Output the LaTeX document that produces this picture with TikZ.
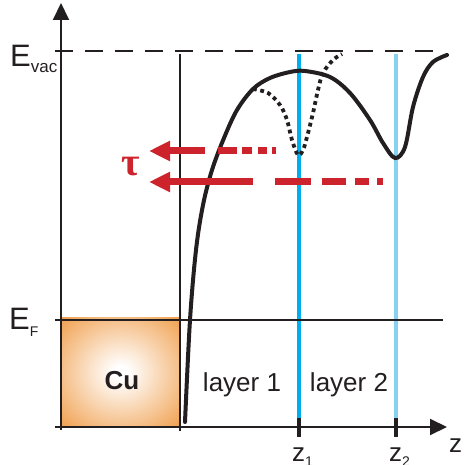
\documentclass[tikz,border=0pt]{standalone}
\usepackage{fontspec}
\setmainfont{Liberation Sans}
\newfontfamily\taufont{Liberation Serif}
\usetikzlibrary{arrows.meta}
\definecolor{ink}{RGB}{35,31,32}
\definecolor{zone}{RGB}{0,174,239}
\definecolor{ztwo}{RGB}{135,210,240}
\definecolor{tred}{RGB}{205,35,45}
\definecolor{cuor}{RGB}{240,158,75}
\pgfdeclareradialshading{cushade}{\pgfpoint{0bp}{0bp}}{color(0bp)=(white); color(3bp)=(white); color(36bp)=(cuor); color(50bp)=(cuor)}
\begin{document}
\begin{tikzpicture}[x=1pt,y=-1pt,
  axisline/.style={ink, line width=2pt},
  axisarrow/.style={axisline, -{Triangle[length=17pt,width=16pt]}},
  curve/.style={ink, line width=4pt, line cap=round},
  dotcurve/.style={ink, line width=3.8pt, dash pattern=on 3.8pt off 3.6pt},
  redbar/.style={tred, line width=7pt},
  redhead/.style={redbar, -{Triangle[length=21pt,width=19pt]}},
  zline/.style={line width=4pt},
  ztick/.style={ink, line width=4pt},
  lab/.style={inner sep=0pt, text=ink},
  big/.style={font=\fontsize{31}{31}\selectfont},
  mid/.style={font=\fontsize{26}{26}\selectfont}]
\useasboundingbox (0,0) rectangle (467,465);
% coordinates
\coordinate (o) at (61,427);
\coordinate (ytop) at (61,3);
\coordinate (xl) at (55,427);
\coordinate (xr) at (447,427);
\coordinate (ybot) at (61,430);
\coordinate (vacl) at (55,51);
\coordinate (vacr) at (440,51);
\coordinate (fl) at (55,320);
\coordinate (fr) at (443,320);
\coordinate (st) at (180,54);
\coordinate (sb) at (180,431);
\coordinate (z1t) at (299,54);
\coordinate (z1b) at (299,418);
\coordinate (z1k) at (299,437);
\coordinate (z2t) at (396,54);
\coordinate (z2b) at (396,418);
\coordinate (z2k) at (396,437);
% Cu box
\shade[shading=cushade] (61,318) rectangle (180,427);
\node[lab, font=\fontsize{26}{26}\selectfont\bfseries] (cu) at (122,381) {Cu};
% blue layer lines
\draw[zline, zone] (z1t) -- (z1b);
\draw[zline, ztwo] (z2t) -- (z2b);
% axes and levels
\draw[axisline, dash pattern=on 18pt off 12pt] (vacl) -- (vacr);
\draw[axisline] (fl) -- (fr);
\draw[axisline] (st) -- (sb);
\draw[axisarrow] (ybot) -- (ytop);
\draw[axisarrow] (xl) -- (xr);
\draw[ztick] (z1b) -- (z1k);
\draw[ztick] (z2b) -- (z2k);
% potential curve
\draw[curve] plot[smooth, tension=0.55] coordinates {(185,422) (190,320) (196,250) (203,205) (212,170) (224,138) (237,110) (253,89) (270,78) (290,72) (305,71) (330,77) (350,93) (370,120) (383,143) (395,158) (405,147) (413,107) (423,77) (433,62) (447,55)};
\draw[dotcurve] plot[smooth, tension=0.55] coordinates {(253,89) (268,93) (280,105) (287,120) (292,140) (298,155) (303,150) (307,137) (313,113) (318,90) (323,73) (333,60) (342,54)};
% red arrows (upper)
\coordinate (ua) at (205,151);
\coordinate (ut) at (149,151);
\draw[redhead] (ua) -- (ut);
\coordinate (u1a) at (218,151); \coordinate (u1b) at (237,151);
\coordinate (u2a) at (242,151); \coordinate (u2b) at (252,151);
\coordinate (u3a) at (258,151); \coordinate (u3b) at (267,151);
\coordinate (u4a) at (272,151); \coordinate (u4b) at (276,151);
\draw[redbar] (u1a) -- (u1b);
\draw[redbar] (u2a) -- (u2b);
\draw[redbar] (u3a) -- (u3b);
\draw[redbar] (u4a) -- (u4b);
% red arrows (lower)
\coordinate (la) at (253,182);
\coordinate (lt) at (149,182);
\draw[redhead] (la) -- (lt);
\coordinate (l1a) at (275,182); \coordinate (l1b) at (311,182);
\coordinate (l2a) at (322,182); \coordinate (l2b) at (346,182);
\coordinate (l3a) at (355,182); \coordinate (l3b) at (369,182);
\coordinate (l4a) at (377,182); \coordinate (l4b) at (383,182);
\draw[redbar] (l1a) -- (l1b);
\draw[redbar] (l2a) -- (l2b);
\draw[redbar] (l3a) -- (l3b);
\draw[redbar] (l4a) -- (l4b);
\node[inner sep=0pt, text=tred, font=\taufont\bfseries\fontsize{40}{40}\selectfont] (tau) at (131,167) {τ};
% labels
\node[lab, big, anchor=base west] (evac) at (10,67) {E\raisebox{-6pt}{\fontsize{17}{17}\selectfont vac}};
\node[lab, big, anchor=base west] (ef) at (9,330) {E\raisebox{-7pt}{\fontsize{14}{14}\selectfont F}};
\node[lab, mid, anchor=base] (l1) at (242,392) {layer 1};
\node[lab, mid, anchor=base] (l2) at (349,392) {layer 2};
\node[lab, mid, anchor=base west] (zz) at (449,453) {z};
\node[lab, mid, anchor=base west] (zl1) at (292,462) {z\raisebox{-5pt}{\fontsize{14}{14}\selectfont 1}};
\node[lab, mid, anchor=base west] (zl2) at (389,462) {z\raisebox{-5pt}{\fontsize{14}{14}\selectfont 2}};
\end{tikzpicture}
\end{document}
